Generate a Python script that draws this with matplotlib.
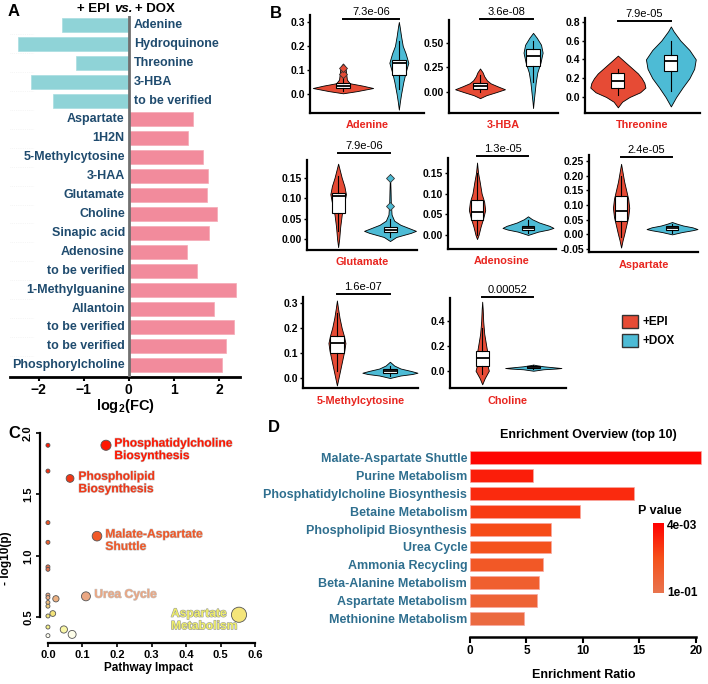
import matplotlib
matplotlib.use('Agg')
import matplotlib.pyplot as plt
import matplotlib.patches as mpatches
import matplotlib.patheffects as pe
from matplotlib.colors import LinearSegmentedColormap, LogNorm, Normalize
from matplotlib.cm import ScalarMappable
import numpy as np

plt.rcParams['font.family'] = ['Liberation Sans', 'DejaVu Sans']
plt.rcParams['font.weight'] = 'bold'
plt.rcParams['axes.labelweight'] = 'bold'
plt.rcParams['mathtext.fontset'] = 'custom'
plt.rcParams['mathtext.rm'] = 'Liberation Sans'
plt.rcParams['mathtext.bf'] = 'Liberation Sans:bold'

W, H = 708, 684

# ── Panel A: log2 fold change ─────────────────────────────────────────────────
FC_NAMES = ['Adenine', 'Hydroquinone', 'Threonine', '3-HBA', 'to be verified',
            'Aspartate', '1H2N', '5-Methylcytosine', '3-HAA', 'Glutamate',
            'Choline', 'Sinapic acid', 'Adenosine', 'to be verified',
            '1-Methylguanine', 'Allantoin', 'to be verified', 'to be verified',
            'Phosphorylcholine']
FC_VALUES = [-1.49, -2.47, -1.18, -2.18, -1.69,
             1.42, 1.31, 1.65, 1.77, 1.73,
             1.96, 1.78, 1.29, 1.51,
             2.38, 1.89, 2.34, 2.15,
             2.06]
FC_TICKS = [-2, -1, 0, 1, 2]

# ── Panel B: violins (+EPI vs +DOX) ───────────────────────────────────────────
VIO_NAMES = ['Adenine', '3-HBA', 'Threonine', 'Glutamate', 'Adenosine',
             'Aspartate', '5-Methylcytosine', 'Choline']
VIO_PVALS = ['7.3e-06', '3.6e-08', '7.9e-05', '7.9e-06', '1.3e-05',
             '2.4e-05', '1.6e-07', '0.00052']
VIO_YTICKS = [[0.0, 0.1, 0.2, 0.3], [0.0, 0.25, 0.5], [0.0, 0.2, 0.4, 0.6, 0.8],
              [0.0, 0.05, 0.10, 0.15], [0.0, 0.05, 0.10, 0.15],
              [-0.05, 0.0, 0.05, 0.10, 0.15, 0.20, 0.25], [0.0, 0.1, 0.2, 0.3],
              [0.0, 0.2, 0.4]]
VIO_TICKFMT = ['%.1f', '%.2f', '%.1f', '%.2f', '%.2f', '%.2f', '%.1f', '%.1f']

# density profiles: y levels and half-widths
EPI_Y = [[0.003, 0.012, 0.025, 0.035, 0.045, 0.06, 0.08, 0.1, 0.115, 0.127],
         [-0.06, -0.03, 0.0, 0.03, 0.06, 0.09, 0.12, 0.16, 0.2, 0.24],
         [-0.11, -0.05, 0.0, 0.05, 0.1, 0.15, 0.2, 0.25, 0.3, 0.35, 0.4, 0.44],
         [-0.02, 0.0, 0.03, 0.06, 0.09, 0.11, 0.13, 0.15, 0.17, 0.185],
         [-0.01, 0.0, 0.02, 0.04, 0.06, 0.08, 0.1, 0.13, 0.15, 0.175],
         [-0.045, -0.02, 0.0, 0.03, 0.06, 0.09, 0.12, 0.15, 0.18, 0.21, 0.24],
         [-0.03, 0.0, 0.04, 0.08, 0.11, 0.14, 0.17, 0.2, 0.24, 0.28, 0.31],
         [-0.11, -0.06, 0.0, 0.05, 0.1, 0.15, 0.2, 0.3, 0.4, 0.5, 0.56]]
EPI_W = [[0.0, 0.25, 0.54, 0.35, 0.12, 0.07, 0.06, 0.05, 0.04, 0.0],
         [0.0, 0.12, 0.3, 0.47, 0.33, 0.2, 0.13, 0.08, 0.05, 0.0],
         [0.0, 0.08, 0.22, 0.42, 0.52, 0.5, 0.45, 0.38, 0.28, 0.18, 0.08, 0.0],
         [0.0, 0.02, 0.04, 0.07, 0.12, 0.15, 0.12, 0.07, 0.03, 0.0],
         [0.0, 0.03, 0.07, 0.12, 0.16, 0.14, 0.09, 0.05, 0.02, 0.0],
         [0.0, 0.03, 0.06, 0.1, 0.14, 0.16, 0.14, 0.1, 0.06, 0.03, 0.0],
         [0.0, 0.03, 0.07, 0.11, 0.14, 0.16, 0.13, 0.09, 0.05, 0.02, 0.0],
         [0.0, 0.05, 0.13, 0.1, 0.1, 0.1, 0.08, 0.04, 0.02, 0.01, 0.0]]
DOX_Y = [[-0.065, -0.03, 0.0, 0.05, 0.09, 0.13, 0.17, 0.2, 0.24, 0.28, 0.3],
         [-0.16, -0.1, 0.0, 0.1, 0.2, 0.3, 0.4, 0.48, 0.55, 0.6],
         [-0.1, -0.05, 0.0, 0.1, 0.2, 0.3, 0.4, 0.5, 0.6, 0.7, 0.75],
         [-0.005, 0.005, 0.015, 0.02, 0.025, 0.035, 0.045, 0.06, 0.09, 0.12, 0.16],
         [0.0, 0.008, 0.013, 0.017, 0.022, 0.03, 0.038, 0.045],
         [0.0, 0.008, 0.014, 0.018, 0.024, 0.03, 0.036, 0.042],
         [0.0, 0.01, 0.016, 0.021, 0.028, 0.038, 0.05, 0.065],
         [0.0, 0.012, 0.018, 0.022, 0.028, 0.036, 0.045, 0.05]]
DOX_W = [[0.0, 0.02, 0.04, 0.08, 0.12, 0.17, 0.12, 0.07, 0.04, 0.015, 0.0],
         [0.0, 0.01, 0.03, 0.05, 0.08, 0.14, 0.18, 0.15, 0.07, 0.0],
         [0.0, 0.05, 0.1, 0.22, 0.35, 0.44, 0.47, 0.35, 0.18, 0.05, 0.0],
         [0.0, 0.12, 0.4, 0.5, 0.4, 0.2, 0.08, 0.03, 0.015, 0.01, 0.0],
         [0.0, 0.2, 0.4, 0.5, 0.42, 0.22, 0.08, 0.0],
         [0.0, 0.2, 0.4, 0.5, 0.4, 0.22, 0.1, 0.0],
         [0.0, 0.2, 0.42, 0.52, 0.4, 0.2, 0.08, 0.0],
         [0.0, 0.2, 0.45, 0.55, 0.4, 0.2, 0.06, 0.0]]
# box stats: whislo, q1, median, q3, whishi
EPI_BOX = [(0.012, 0.025, 0.035, 0.045, 0.07), (0.0, 0.03, 0.06, 0.09, 0.17),
           (0.02, 0.1, 0.17, 0.25, 0.3), (0.02, 0.063, 0.105, 0.112, 0.155),
           (0.0, 0.035, 0.055, 0.085, 0.15), (-0.01, 0.045, 0.08, 0.13, 0.2),
           (0.03, 0.1, 0.14, 0.17, 0.26), (-0.03, 0.04, 0.1, 0.16, 0.35)]
DOX_BOX = [(0.02, 0.08, 0.128, 0.142, 0.22), (0.1, 0.27, 0.37, 0.44, 0.52),
           (0.06, 0.28, 0.38, 0.45, 0.6), (0.005, 0.018, 0.022, 0.03, 0.05),
           (0.004, 0.011, 0.016, 0.021, 0.035), (0.006, 0.015, 0.02, 0.028, 0.036),
           (0.01, 0.02, 0.028, 0.035, 0.05), (0.012, 0.02, 0.03, 0.035, 0.045)]
EPI_FLIERS = [[0.083, 0.11], [], [], [], [], [], [], []]
DOX_FLIERS = [[], [], [], [0.082, 0.15], [], [], [], []]

# ── Panel C: pathway impact ───────────────────────────────────────────────────
PW_IMPACT = [0.0, 0.0, 0.0, 0.0, 0.0, 0.0, 0.0, 0.0, 0.0, 0.0, 0.0, 0.0, 0.0,
             0.023, 0.014, 0.046, 0.07, 0.168, 0.064, 0.142, 0.11, 0.553]
PW_LOGP = [1.90, 1.69, 1.27, 1.11, 0.91, 0.89, 0.68, 0.66, 0.62, 0.59, 0.51, 0.42, 0.35,
           0.65, 0.53, 0.40, 0.36, 1.90, 1.63, 1.16, 0.67, 0.52]
PW_LABELS = [''] * 17 + ['Phosphatidylcholine\nBiosynthesis', 'Phospholipid\nBiosynthesis',
                         'Malate-Aspartate\nShuttle', 'Urea Cycle', 'Aspartate\nMetabolism']

# ── Panel D: enrichment overview ──────────────────────────────────────────────
ENR_NAMES = ['Malate-Aspartate Shuttle', 'Purine Metabolism',
             'Phosphatidylcholine Biosynthesis', 'Betaine Metabolism',
             'Phospholipid Biosynthesis', 'Urea Cycle', 'Ammonia Recycling',
             'Beta-Alanine Metabolism', 'Aspartate Metabolism', 'Methionine Metabolism']
ENR_RATIO = [20.5, 5.6, 14.5, 9.7, 7.2, 7.2, 6.5, 6.1, 5.9, 4.8]
ENR_PVAL = [0.0042, 0.007, 0.009, 0.013, 0.018, 0.022, 0.03, 0.04, 0.05, 0.07]

TEAL = '#8fd3d7'
PINK = '#f28b9c'
NAVY = '#1f4b6e'
RED = '#e64b35'
BLUE = '#4dbbd5'
LABEL_RED = '#e8251f'
STEEL = '#2f6f8f'


def px_axes(fig, left, top, right, bottom):
    return fig.add_axes([left / W, 1 - bottom / H, (right - left) / W, (bottom - top) / H])


fig = plt.figure(figsize=(W / 100, H / 100), dpi=100)

# ── A ─────────────────────────────────────────────────────────────────────────
ax = px_axes(fig, 10, 15.5, 240, 377)
ypos = np.arange(len(FC_NAMES))
for y in ypos[:-1]:
    ax.hlines(y + 0.5, -2.64, -2.1, color='#ededed', lw=0.5, ls=':', zorder=0)
ax.barh(ypos, FC_VALUES, height=0.74,
        color=[TEAL if v < 0 else PINK for v in FC_VALUES],
        edgecolor=['#a8dde0' if v < 0 else '#f4a9b5' for v in FC_VALUES],
        linewidth=0.5, zorder=2)
ax.axvline(0, color='#707070', lw=2, zorder=3)
for y, name, v in zip(ypos, FC_NAMES, FC_VALUES):
    if v < 0:
        ax.text(0.11, y, name, ha='left', va='center', color=NAVY, fontsize=9)
    else:
        ax.text(-0.09, y, name, ha='right', va='center', color=NAVY, fontsize=9)
ax.set_xlim(-2.64, 2.47)
ax.set_ylim(18.62, -0.5)
for s in ('left', 'top', 'right'):
    ax.spines[s].set_visible(False)
ax.spines['bottom'].set_linewidth(2)
ax.set_yticks([])
ax.set_xticks(FC_TICKS, ['\u22122', '\u22121', '0', '1', '2'])
ax.tick_params(axis='x', labelsize=10, length=3, width=1.5, pad=1)
ax.set_xlabel(r'log$_\mathbf{2}$(FC)', fontsize=10.5, labelpad=0)

fig.text(110 / W, 1 - 9 / H, '+ EPI', ha='right', va='center', fontsize=9.5)
fig.text(123 / W, 1 - 9 / H, 'vs.', ha='center', va='center', fontsize=9.5, style='italic')
fig.text(135 / W, 1 - 9 / H, '+ DOX', ha='left', va='center', fontsize=9.5)

# ── B ─────────────────────────────────────────────────────────────────────────
b_rects = [(310, 15, 424, 113), (449, 20, 558, 113), (585, 18, 700, 113),
           (307, 160, 417, 250), (448, 158, 556, 249), (589, 155, 698, 252),
           (303, 297, 418, 388), (450, 298, 566, 388)]
b_ylims = [(-0.079, 0.329), (-0.21, 0.73), (-0.17, 0.84),
           (-0.027, 0.194), (-0.034, 0.186), (-0.06, 0.27),
           (-0.04, 0.324), (-0.14, 0.59)]
b_xlims = [(0.41, 2.45), (0.415, 2.47), (0.38, 2.55),
           (0.4, 2.52), (0.43, 2.55), (0.37, 2.51),
           (0.36, 2.53), (0.37, 2.64)]
b_bracket = [19, 19, 21, 153, 156, 157, 294, 297]


def draw_group(axv, pos, ys, ws, box, fliers, color):
    ys = np.asarray(ys, dtype=float)
    ws = np.asarray(ws, dtype=float)
    stats = [dict(coords=ys, vals=ws, mean=box[2], median=box[2],
                  min=ys.min(), max=ys.max())]
    parts = axv.violin(stats, positions=[pos], widths=2 * ws.max(),
                       showmeans=False, showextrema=False, showmedians=False)
    for body in parts['bodies']:
        body.set_facecolor(color)
        body.set_edgecolor('black')
        body.set_linewidth(0.6)
        body.set_alpha(1)
        body.set_zorder(2)
    bstats = [dict(whislo=box[0], q1=box[1], med=box[2], q3=box[3], whishi=box[4],
                   fliers=fliers)]
    axv.bxp(bstats, positions=[pos], widths=0.25, patch_artist=True, showcaps=False,
            boxprops=dict(facecolor='white', edgecolor='black', linewidth=0.8),
            medianprops=dict(color='black', linewidth=1.3),
            whiskerprops=dict(color='black', linewidth=0.8),
            flierprops=dict(marker='D', markersize=4, markerfacecolor=color,
                            markeredgecolor='#333333', markeredgewidth=0.6),
            zorder=3)


for i, name in enumerate(VIO_NAMES):
    l, t, r, b = b_rects[i]
    axv = px_axes(fig, l, t, r, b)
    draw_group(axv, 1, EPI_Y[i], EPI_W[i], EPI_BOX[i], EPI_FLIERS[i], RED)
    draw_group(axv, 2, DOX_Y[i], DOX_W[i], DOX_BOX[i], DOX_FLIERS[i], BLUE)
    axv.set_xlim(*b_xlims[i])
    axv.set_ylim(*b_ylims[i])
    axv.set_xticks([])
    axv.set_yticks(VIO_YTICKS[i], [VIO_TICKFMT[i] % v for v in VIO_YTICKS[i]])
    axv.tick_params(axis='y', labelsize=7.5, length=2.5, width=1, pad=1)
    for s in ('top', 'right'):
        axv.spines[s].set_visible(False)
    axv.spines['left'].set_linewidth(1.6)
    axv.spines['bottom'].set_linewidth(1.6)
    yb = (b - b_bracket[i]) / (b - t)
    axv.plot([1, 2], [yb, yb], color='black', lw=1.4,
             transform=axv.get_xaxis_transform(), clip_on=False)
    axv.text(1.5, yb + 0.02, VIO_PVALS[i], ha='center', va='bottom', fontsize=8,
             fontweight='normal', transform=axv.get_xaxis_transform())
    axv.annotate(name, xy=(0.5, 0), xycoords='axes fraction', xytext=(0, -9),
                 textcoords='offset points', ha='center', va='center',
                 color=LABEL_RED, fontsize=7.8)

fig.legend(handles=[mpatches.Patch(facecolor=RED, edgecolor='#333333', label='+EPI'),
                    mpatches.Patch(facecolor=BLUE, edgecolor='#333333', label='+DOX')],
           loc='upper left', bbox_to_anchor=(617 / W, 1 - 310 / H), frameon=False,
           fontsize=8.5, handlelength=1.35, handleheight=1.35, handletextpad=0.4,
           labelspacing=0.45, borderaxespad=0)

# ── C ─────────────────────────────────────────────────────────────────────────
axc = px_axes(fig, 40, 425, 258, 643)
cmap_c = LinearSegmentedColormap.from_list('heat', [
    (0.0, '#fffff2'), (0.05, '#f5f07a'), (0.13, '#f3e07a'), (0.2, '#eaa884'),
    (0.35, '#e2704e'), (0.5, '#f05a28'), (0.8, '#f03a18'), (1.0, '#ff1500')])
norm_c = Normalize(0.35, 1.92)
imp = np.asarray(PW_IMPACT)
diam = 4 + 15 * np.sqrt(imp)
order = np.argsort(diam)
axc.scatter(imp[order], np.asarray(PW_LOGP)[order], s=(diam[order] * 0.72) ** 2,
            c=np.asarray(PW_LOGP)[order], cmap=cmap_c, norm=norm_c,
            edgecolors='#555555', linewidths=0.6, zorder=3, clip_on=False)
for x, y, lab in zip(PW_IMPACT, PW_LOGP, PW_LABELS):
    if not lab:
        continue
    col = cmap_c(norm_c(y))
    if lab.startswith('Aspartate'):
        off = (-49, 5)
        col = '#eeee6a'
        stroke = '#9a9a9a'
    else:
        off = (6, 5.5)
        stroke = '#c8c8c8'
    axc.annotate(lab, xy=(x, y), xytext=off, textcoords='offset points',
                 ha='left', va='top', fontsize=8.7, color=col, linespacing=1.05,
                 path_effects=[pe.withStroke(linewidth=0.8, foreground=stroke)])
axc.set_xlim(-0.023, 0.608)
axc.set_ylim(0.29, 2.065)
for s in ('top', 'right'):
    axc.spines[s].set_visible(False)
axc.spines['left'].set_bounds(0.5, 2.0)
axc.spines['bottom'].set_bounds(0.0, 0.6)
axc.spines['left'].set_linewidth(1.6)
axc.spines['bottom'].set_linewidth(1.6)
axc.set_xticks([0.0, 0.1, 0.2, 0.3, 0.4, 0.5, 0.6])
axc.set_xticklabels(['0.0', '0.1', '0.2', '0.3', '0.4', '0.5', '0.6'])
axc.set_yticks([0.5, 1.0, 1.5, 2.0])
axc.set_yticklabels(['0.5', '1.0', '1.5', '2.0'], rotation=90, va='center')
axc.tick_params(labelsize=8, length=3, width=1.2, pad=2)
axc.set_ylabel('- log10(p)', fontsize=8.5)
axc.yaxis.set_label_coords(-0.13, 0.39)
axc.set_xlabel('Pathway Impact', fontsize=8.5)
axc.xaxis.set_label_coords(0.5, -0.085)

# ── D ─────────────────────────────────────────────────────────────────────────
axd = px_axes(fig, 470, 449, 702, 637)
cmap_d = LinearSegmentedColormap.from_list('pv', ['#ff0000', '#f5501a', '#e8744e'])
norm_d = LogNorm(0.0037, 0.11)
yd = np.arange(len(ENR_NAMES))
axd.barh(yd, ENR_RATIO, height=0.72, color=cmap_d(norm_d(ENR_PVAL)),
         edgecolor='#f7a8a0', linewidth=0.5)
axd.set_xlim(0, 20.55)
axd.set_ylim(10.06, -0.5)
for s in ('top', 'right', 'left'):
    axd.spines[s].set_visible(False)
axd.spines['bottom'].set_bounds(0, 20)
axd.spines['bottom'].set_linewidth(1.8)
axd.set_yticks(yd, ENR_NAMES)
axd.tick_params(axis='y', length=0, pad=2, labelsize=9, labelcolor=STEEL)
axd.set_xticks([0, 5, 10, 15, 20])
axd.tick_params(axis='x', labelsize=8.5, length=4, width=1.5, pad=2)
axd.set_xlabel('Enrichment Ratio', fontsize=9)
axd.xaxis.set_label_coords(0.49, -0.17)
fig.text(588 / W, 1 - 435 / H, 'Enrichment Overview (top 10)', ha='center', va='center',
         fontsize=9)

cax = px_axes(fig, 653, 523, 664, 593)
cb = fig.colorbar(ScalarMappable(norm=norm_d, cmap=cmap_d), cax=cax)
cb.outline.set_visible(False)
cax.minorticks_off()
cb.set_ticks([0.004, 0.1])
cb.set_ticklabels(['4e-03', '1e-01'])
cax.invert_yaxis()
cax.tick_params(length=0, labelsize=8.5, pad=2)
fig.text(660 / W, 1 - 511 / H, 'P value', ha='center', va='center', fontsize=9)

# ── panel letters ─────────────────────────────────────────────────────────────
for letter, (px, py) in zip('ABCD', [(8, 12), (270, 13), (8, 434), (268, 428)]):
    fig.text(px / W, 1 - py / H, letter, ha='left', va='center', fontsize=12)

fig.savefig('out.png', dpi=100)
